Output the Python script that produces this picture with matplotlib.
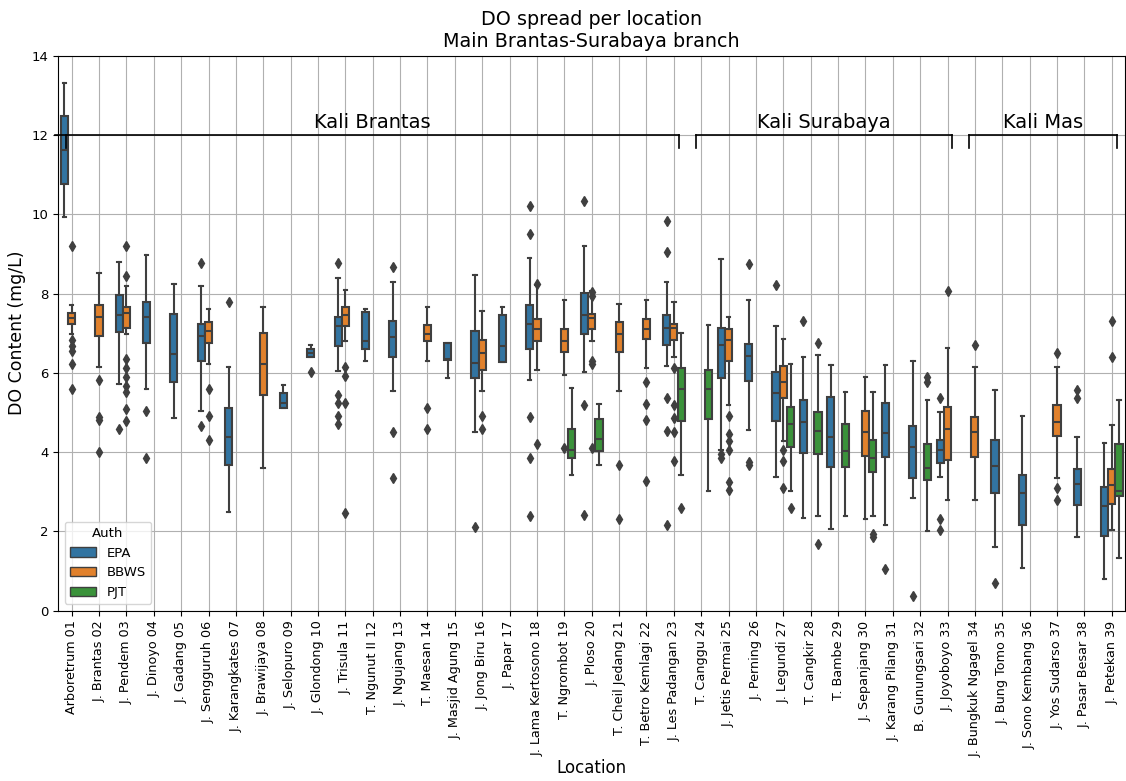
import matplotlib
matplotlib.use("Agg")
import matplotlib.pyplot as plt
from matplotlib.patches import Patch

# --- data ---------------------------------------------------------------------

LOCATIONS = [
    "Arboretrum 01", "J. Brantas 02", "J. Pendem 03", "J. Dinoyo 04", "J. Gadang 05",
    "J. Sengguruh 06", "J. Karangkates 07", "J. Brawijaya 08", "J. Selopuro 09",
    "J. Glondong 10", "J. Trisula 11", "T. Ngunut II 12", "J. Ngujang 13", "T. Maesan 14",
    "J. Masjid Agung 15", "J. Jong Biru 16", "J. Papar 17", "J. Lama Kertosono 18",
    "T. Ngrombot 19", "J. Ploso 20", "T. Cheil Jedang 21", "T. Betro Kemlagi 22",
    "J. Les Padangan 23", "T. Canggu 24", "J. Jetis Permai 25", "J. Perning 26",
    "J. Legundi 27", "T. Cangkir 28", "T. Bambe 29", "J. Sepanjang 30",
    "J. Karang Pilang 31", "B. Gunungsari 32", "J. Joyoboyo 33", "J. Bungkuk Ngagel 34",
    "J. Bung Tomo 35", "J. Sono Kembang 36", "J. Yos Sudarso 37", "J. Pasar Besar 38",
    "J. Petekan 39",
]
AUTHS = ["EPA", "BBWS", "PJT"]

# per authority: station number, (whislo, q1, med, q3, whishi), outliers
EPA_STATION = [1, 3, 4, 5, 6, 7, 9, 10, 11, 12, 13, 15, 16, 17, 18, 20, 23, 25, 26,
               27, 28, 29, 31, 32, 33, 35, 36, 38, 39]
EPA_BOX = [
    (9.93, 10.76, 11.62, 12.49, 13.32), (5.72, 7.03, 7.46, 7.97, 8.80),
    (5.58, 6.75, 7.41, 7.79, 8.96), (4.86, 5.78, 6.47, 7.48, 8.24),
    (5.04, 6.31, 6.93, 7.24, 8.19), (2.49, 3.68, 4.38, 5.11, 6.15),
    (5.10, 5.12, 5.25, 5.48, 5.70), (6.40, 6.40, 6.51, 6.60, 6.70),
    (6.05, 6.67, 7.19, 7.41, 8.39), (6.31, 6.60, 6.81, 7.53, 7.60),
    (5.54, 6.40, 6.91, 7.30, 8.28), (5.86, 6.33, 6.36, 6.76, 6.76),
    (4.50, 5.86, 6.24, 7.05, 8.48), (6.28, 6.28, 6.67, 7.47, 7.65),
    (5.83, 6.60, 7.24, 7.70, 8.90), (6.02, 6.98, 7.46, 8.01, 9.20),
    (6.17, 6.69, 7.12, 7.47, 8.30), (4.05, 5.88, 6.70, 7.12, 8.87),
    (4.56, 5.79, 6.42, 6.73, 7.83), (3.37, 4.79, 5.48, 6.01, 7.19),
    (2.34, 3.98, 4.75, 5.31, 6.40), (2.06, 3.62, 4.38, 5.40, 6.19),
    (2.15, 3.88, 4.47, 5.24, 6.19), (2.85, 3.35, 4.12, 4.66, 6.31),
    (3.37, 3.73, 4.05, 4.30, 5.01), (1.60, 2.98, 3.64, 4.30, 5.57),
    (1.08, 2.16, 2.98, 3.43, 4.92), (1.85, 2.66, 3.19, 3.57, 4.38),
    (0.81, 1.89, 2.64, 3.11, 4.24),
]
EPA_OUT = [
    [], [4.59], [5.04, 3.85], [], [8.78, 4.66], [7.78], [], [6.02],
    [8.78, 5.45, 5.25, 4.90, 4.71], [], [8.66, 4.50, 3.35], [], [2.10], [],
    [10.20, 9.49, 4.89, 3.86, 2.39], [10.33, 5.18, 2.42], [9.84, 9.04, 5.36, 4.54, 2.15],
    [3.95, 3.86], [8.75, 3.76, 3.68], [8.21], [7.30], [], [1.04], [0.38],
    [5.36, 2.30, 2.04], [0.70], [], [5.57, 5.36], [],
]

BBWS_STATION = [1, 2, 3, 6, 8, 11, 14, 16, 18, 19, 20, 21, 22, 23, 25, 27, 30, 33, 34, 37, 39]
BBWS_BOX = [
    (6.99, 7.23, 7.39, 7.50, 7.70), (6.15, 6.94, 7.41, 7.70, 8.51),
    (6.99, 7.12, 7.52, 7.65, 8.19), (6.21, 6.76, 7.05, 7.28, 7.62),
    (3.59, 5.43, 6.22, 7.01, 7.65), (6.79, 7.17, 7.47, 7.67, 8.09),
    (6.31, 6.79, 6.99, 7.21, 7.65), (5.54, 6.08, 6.51, 6.83, 7.57),
    (6.08, 6.79, 7.10, 7.37, 8.21), (5.95, 6.53, 6.81, 7.10, 7.83),
    (6.79, 7.10, 7.39, 7.48, 8.07), (5.54, 6.52, 6.99, 7.28, 7.73),
    (6.13, 6.85, 7.10, 7.35, 7.83), (6.40, 6.82, 7.12, 7.24, 7.78),
    (5.18, 6.31, 6.83, 7.10, 7.41), (4.27, 5.36, 5.76, 6.17, 6.85),
    (2.30, 3.91, 4.50, 5.04, 5.90), (2.79, 3.79, 4.59, 5.15, 6.62),
    (2.79, 3.88, 4.50, 4.89, 6.14), (3.34, 4.41, 4.77, 5.20, 6.15),
    (2.03, 2.69, 3.16, 3.57, 4.68),
]
BBWS_OUT = [
    [9.20, 6.82, 6.67, 6.56, 6.22, 5.58], [5.81, 4.89, 4.81, 4.00],
    [9.20, 8.43, 6.35, 6.13, 5.90, 5.67, 5.51, 5.09, 4.79], [5.58, 4.90, 4.30], [],
    [6.14, 5.93, 5.25, 2.46], [5.11, 4.59], [4.90, 4.59], [8.25, 4.20], [4.11],
    [8.03, 7.94, 6.31, 6.22, 4.11], [3.68, 2.30], [5.78, 5.22, 4.81, 3.28],
    [6.13, 5.19, 4.86, 4.50, 3.77], [4.90, 4.45, 4.27, 4.05, 3.24, 3.05],
    [4.05, 3.77, 3.10], [], [8.07], [6.71], [6.49, 3.10, 2.80], [7.30, 6.39],
]

PJT_STATION = [19, 20, 23, 24, 27, 28, 29, 30, 32, 39]
PJT_BOX = [
    (3.41, 3.86, 4.05, 4.59, 5.61), (3.68, 4.02, 4.32, 4.83, 5.22),
    (3.41, 4.79, 5.60, 6.11, 7.01), (3.02, 4.83, 5.58, 6.08, 7.21),
    (3.02, 4.12, 4.70, 5.13, 6.22), (2.40, 3.95, 4.54, 5.01, 6.44),
    (2.40, 3.62, 4.03, 4.70, 5.51), (2.40, 3.50, 3.85, 4.30, 5.51),
    (2.01, 3.30, 3.59, 4.20, 5.31), (1.33, 2.90, 3.02, 4.21, 5.31),
]
PJT_OUT = [[], [], [2.60], [], [2.60], [6.74, 1.67], [], [1.93, 1.85], [5.90, 5.78], []]

# river stretches: label, first station, last station
RIVERS = ["Kali Brantas", "Kali Surabaya", "Kali Mas"]
RIVER_START = [1, 24, 34]
RIVER_END = [23, 33, 39]

COLORS = {"EPA": "#3274a1", "BBWS": "#e1812c", "PJT": "#3a923a"}
LINE = "#3f3f3f"

# --- plot ---------------------------------------------------------------------

fig = plt.figure(figsize=(11.26, 7.81), dpi=100)
ax = fig.add_axes([0.0515, 0.2181, 0.948, 0.7106])

groups = {
    "EPA": (EPA_STATION, EPA_BOX, EPA_OUT),
    "BBWS": (BBWS_STATION, BBWS_BOX, BBWS_OUT),
    "PJT": (PJT_STATION, PJT_BOX, PJT_OUT),
}
dodge = 0.8 / len(AUTHS)
for k, auth in enumerate(AUTHS):
    stations, boxes, outs = groups[auth]
    stats = [dict(whislo=b[0], q1=b[1], med=b[2], q3=b[3], whishi=b[4], fliers=f)
             for b, f in zip(boxes, outs)]
    pos = [s - 1 + (k - 1) * dodge for s in stations]
    ax.bxp(stats, positions=pos, widths=dodge * 0.98, patch_artist=True,
           manage_ticks=False,
           boxprops=dict(facecolor=COLORS[auth], edgecolor=LINE, linewidth=1.5),
           medianprops=dict(color=LINE, linewidth=1.5),
           whiskerprops=dict(color=LINE, linewidth=1.5),
           capprops=dict(color=LINE, linewidth=1.5),
           flierprops=dict(marker="d", markerfacecolor=LINE, markeredgecolor=LINE,
                           markersize=5.5, linestyle="none"))

# brackets marking each river stretch
y0, drop = 12.0, 0.33
for name, a, b in zip(RIVERS, RIVER_START, RIVER_END):
    x0, x1 = a - 1 - 0.2, b - 1 + 0.18
    left = -0.62 if a == 1 else x0
    ax.plot([left, x1], [y0, y0], color="black", lw=1.2, clip_on=False, zorder=5)
    ax.plot([x0, x0], [y0, y0 - drop], color="black", lw=1.2, zorder=5)
    ax.plot([x1, x1], [y0, y0 - drop], color="black", lw=1.2, zorder=5)
    ax.text((x0 + x1) / 2, y0 + 0.08, name, ha="center", va="bottom", fontsize=14)

ax.set_xlim(-0.5, len(LOCATIONS) - 0.5)
ax.set_ylim(0, 14)
ax.set_xticks(range(len(LOCATIONS)))
ax.set_xticklabels(LOCATIONS, rotation=90)
ax.tick_params(axis="x", labelsize=9.2)
ax.tick_params(axis="y", labelsize=9.5)
ax.set_yticks(range(0, 15, 2))
ax.set_axisbelow(True)
ax.grid(True)
ax.set_xlabel("Location", fontsize=12, labelpad=1)
ax.set_ylabel("DO Content (mg/L)", fontsize=12.5)
ax.set_title("DO spread per location\nMain Brantas-Surabaya branch", fontsize=13.8)

handles = [Patch(facecolor=COLORS[a], edgecolor=LINE, label=a) for a in AUTHS]
ax.legend(handles=handles, title="Auth", loc="lower left", fontsize=9.5,
          title_fontsize=9.5)

fig.savefig("out.png", dpi=100)
